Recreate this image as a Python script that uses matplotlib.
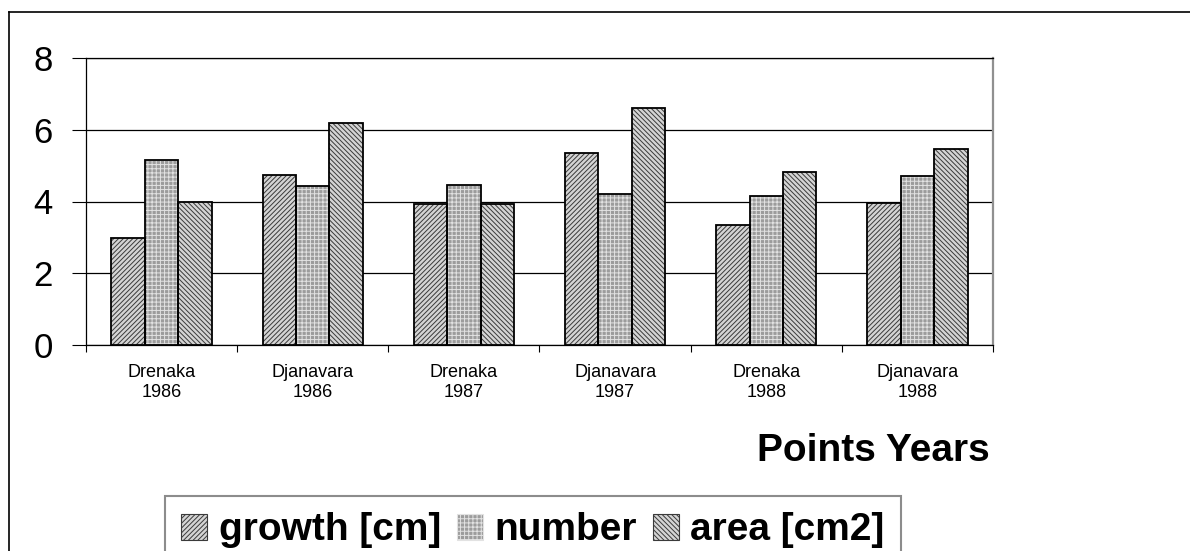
import numpy as np
import matplotlib.pyplot as plt
from matplotlib.lines import Line2D

plt.rcParams['font.family'] = ['Liberation Sans', 'DejaVu Sans']
plt.rcParams['hatch.linewidth'] = 0.7

# Sample points and years
points = ["Drenaka", "Djanavara", "Drenaka", "Djanavara", "Drenaka", "Djanavara"]
years = ["1986", "1986", "1987", "1987", "1988", "1988"]

# Measured values per point/year
growth = [2.97, 4.73, 3.93, 5.36, 3.34, 3.97]   # growth [cm]
number = [5.15, 4.43, 4.47, 4.20, 4.16, 4.70]   # number
area = [3.98, 6.20, 3.93, 6.62, 4.82, 5.47]     # area [cm2]

series = [
    ("growth [cm]", growth, "#d4d4d4", "#3a3a3a", "///////"),
    ("number", number, "#9c9c9c", "#e2e2e2", "++++"),
    ("area [cm2]", area, "#d4d4d4", "#3a3a3a", "\\\\\\\\\\\\\\"),
]

fig = plt.figure(figsize=(11.9, 5.51), dpi=100)
ax = fig.add_axes([86 / 1190, 1 - 345 / 551, 907 / 1190, 287 / 551])

x = np.arange(len(points))
width = 0.221
handles = []
for i, (name, vals, face, hcol, hatch) in enumerate(series):
    pos = x + (i - 1) * width
    # hatched fill first, then the black outline on top
    ax.bar(pos, vals, width, color=face, edgecolor=hcol, hatch=hatch, linewidth=0, zorder=3)
    ax.bar(pos, vals, width, facecolor="none", edgecolor="black", linewidth=1.3, zorder=4)
    h = plt.Rectangle((0, 0), 1, 1, facecolor=face, edgecolor=hcol, hatch=hatch, linewidth=0.8)
    handles.append(h)

ax.set_xlim(-0.5, len(points) - 0.5)
ax.set_ylim(0, 8)
ax.set_yticks([0, 2, 4, 6, 8])
ax.tick_params(axis="y", labelsize=25, length=10, width=0.8, pad=14)
ax.yaxis.grid(True, color="black", linewidth=0.9, zorder=0)

# category boundaries as ticks, labels centred below each group
ax.set_xticks(np.arange(len(points) + 1) - 0.5)
ax.set_xticklabels([])
ax.tick_params(axis="x", which="major", length=5, width=0.8, direction="out")
ax.set_xticks(x, minor=True)
ax.set_xticklabels([f"{p}\n{y}" for p, y in zip(points, years)], minor=True,
                   fontsize=13, linespacing=1.2)
ax.tick_params(axis="x", which="minor", length=0, pad=14)

for s in ["left", "bottom", "top"]:
    ax.spines[s].set_color("black")
    ax.spines[s].set_linewidth(0.9)
ax.spines["right"].set_color("#909090")
ax.spines["right"].set_linewidth(1.6)

fig.text(990 / 1190, 1 - 461 / 551, "Points Years", ha="right", va="baseline",
         fontsize=28, fontweight="bold")

leg = fig.legend(handles, [s[0] for s in series], ncol=3,
                 loc="upper left", bbox_to_anchor=(165 / 1190, 1 - 496 / 551),
                 prop={"size": 28, "weight": "bold"}, frameon=True, fancybox=False,
                 edgecolor="#707070", handlelength=0.67, handleheight=0.65,
                 handletextpad=0.3, columnspacing=0.4, borderpad=0.42,
                 borderaxespad=0)
leg.get_frame().set_linewidth(1.5)

# outer chart border (left and top edges fall inside the image)
fig.add_artist(Line2D([9 / 1190, 9 / 1190], [0, 1 - 12 / 551], color="black", lw=1.2))
fig.add_artist(Line2D([9 / 1190, 1], [1 - 12 / 551, 1 - 12 / 551], color="black", lw=1.2))

fig.savefig("out.png", dpi=100)
